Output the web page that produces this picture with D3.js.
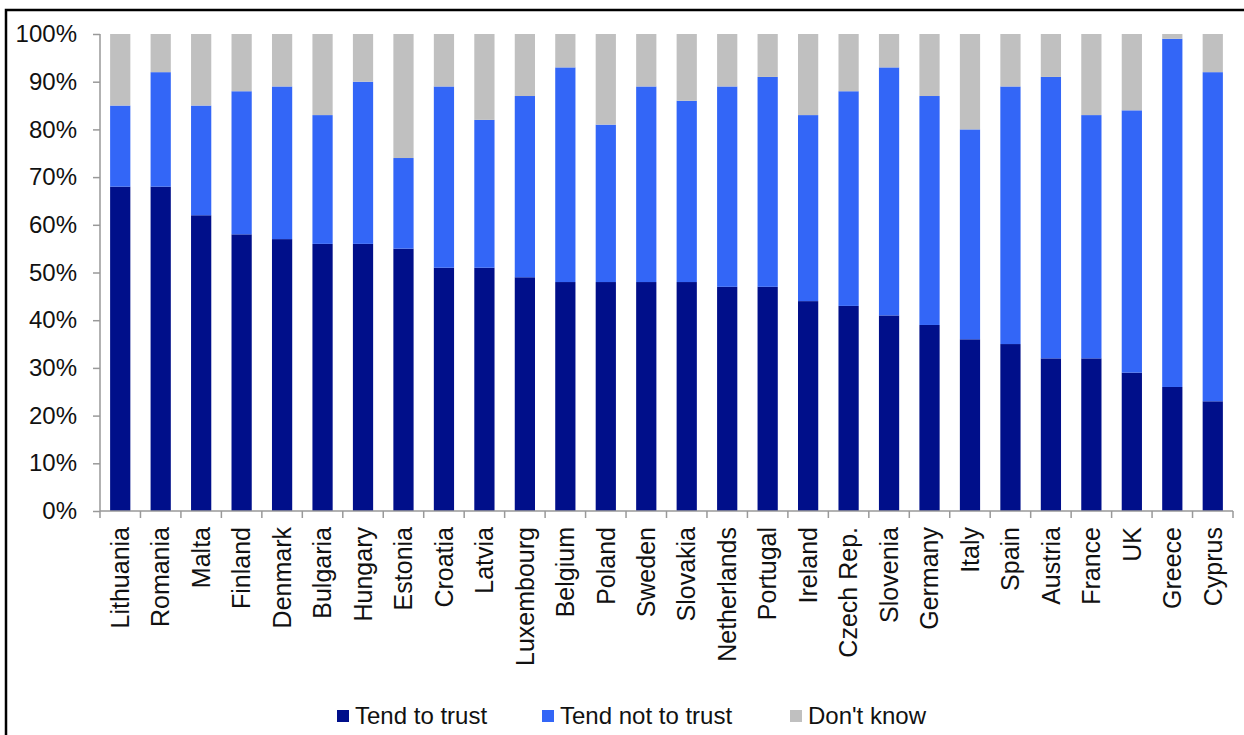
<!DOCTYPE html>
<html>
<head>
<meta charset="utf-8">
<script src="https://cdn.jsdelivr.net/npm/d3@7"></script>
<style>
  body { margin: 0; background: #fff; }
  text { font-family: "Liberation Sans", Arial, sans-serif; fill: #111; }
</style>
</head>
<body>
<script>
var countries = ["Lithuania", "Romania", "Malta", "Finland", "Denmark", "Bulgaria", "Hungary", "Estonia",
    "Croatia", "Latvia", "Luxembourg", "Belgium", "Poland", "Sweden", "Slovakia", "Netherlands",
    "Portugal", "Ireland", "Czech Rep.", "Slovenia", "Germany", "Italy", "Spain", "Austria",
    "France", "UK", "Greece", "Cyprus"];
var trust =    [68, 68, 62, 58, 57, 56, 56, 55, 51, 51, 49, 48, 48, 48, 48, 47, 47, 44, 43, 41, 39, 36, 35, 32, 32, 29, 26, 23];
var notTrust = [17, 24, 23, 30, 32, 27, 34, 19, 38, 31, 38, 45, 33, 41, 38, 42, 44, 39, 45, 52, 48, 44, 54, 59, 51, 55, 73, 69];
var dontKnow = [15,  8, 15, 12, 11, 17, 10, 26, 11, 18, 13,  7, 19, 11, 14, 11,  9, 17, 12,  7, 13, 20, 11,  9, 17, 16,  1,  8];
var seriesNames = ["Tend to trust", "Tend not to trust", "Don't know"];
var yTicks = [0, 10, 20, 30, 40, 50, 60, 70, 80, 90, 100];

var colors = ["#000f8a", "#3366f7", "#c0c0c0"];

var margins = { top: 34, left: 100, right: 11, bottom: 224 };
var width = 1244, height = 735;
var plot_width = width - margins.left - margins.right;
var plot_height = height - margins.top - margins.bottom;

var rows = countries.map(function (c, i) {
    return { country: c, trust: trust[i], notTrust: notTrust[i], dontKnow: dontKnow[i] };
});

var svg = d3.select("body").append("svg")
    .attr("width", width)
    .attr("height", height);

// frame round the picture (only top and left edges visible)
svg.append("rect")
    .attr("x", 6).attr("y", 10)
    .attr("width", 1400).attr("height", 900)
    .attr("fill", "none")
    .attr("stroke", "#000")
    .attr("stroke-width", 2.5);

var g = svg.append("g")
    .attr("transform", "translate(" + margins.left + "," + margins.top + ")");

var x = d3.scaleBand()
    .domain(countries)
    .range([0, plot_width])
    .paddingInner(0.5)
    .paddingOuter(0.25);

var y = d3.scaleLinear()
    .domain([0, 100])
    .range([plot_height, 0]);

var stack = d3.stack().keys(["trust", "notTrust", "dontKnow"]);
var layers = stack(rows);

g.selectAll("g.layer")
    .data(layers)
    .enter().append("g")
    .attr("class", "layer")
    .attr("fill", (d, i) => colors[i])
    .selectAll("rect")
    .data(d => d)
    .enter().append("rect")
    .attr("x", d => x(d.data.country))
    .attr("width", x.bandwidth())
    .attr("y", d => y(d[1]))
    .attr("height", d => y(d[0]) - y(d[1]));

// y axis
var yAxis = g.append("g")
    .call(d3.axisLeft(y).tickValues(yTicks).tickFormat(d => d + "%").tickSize(7).tickPadding(16));
yAxis.selectAll("path, line").attr("stroke", "#999").attr("stroke-width", 1.5);
yAxis.select(".domain").attr("d", "M0," + plot_height + "V0");
yAxis.selectAll("text")
    .style("font-size", "24px")
    .attr("fill", "#111");

// x axis: ticks between categories
var xAxis = g.append("g")
    .attr("transform", "translate(0," + plot_height + ")");
xAxis.append("line")
    .attr("x1", 0).attr("x2", plot_width)
    .attr("stroke", "#999").attr("stroke-width", 1.5);
xAxis.selectAll("line.tick")
    .data(d3.range(countries.length + 1))
    .enter().append("line")
    .attr("class", "tick")
    .attr("x1", i => i * x.step())
    .attr("x2", i => i * x.step())
    .attr("y1", 0).attr("y2", 7)
    .attr("stroke", "#999").attr("stroke-width", 1.5);
xAxis.selectAll("text")
    .data(countries)
    .enter().append("text")
    .attr("transform", d => "translate(" + (x(d) + x.bandwidth() / 2) + ",16) rotate(-90)")
    .attr("text-anchor", "end")
    .attr("dy", "0.35em")
    .style("font-size", "25px")
    .text(d => d);

// legend
var legend = svg.append("g")
    .attr("transform", "translate(0,716)");
var legendX = [337, 542, 790];
var item = legend.selectAll("g")
    .data(seriesNames)
    .enter().append("g")
    .attr("transform", (d, i) => "translate(" + legendX[i] + ",0)");
item.append("rect")
    .attr("x", 0).attr("y", -6)
    .attr("width", 12).attr("height", 12)
    .attr("fill", (d, i) => colors[i]);
item.append("text")
    .attr("x", 18)
    .attr("dy", "0.35em")
    .style("font-size", "24px")
    .text(d => d);
</script>
</body>
</html>
